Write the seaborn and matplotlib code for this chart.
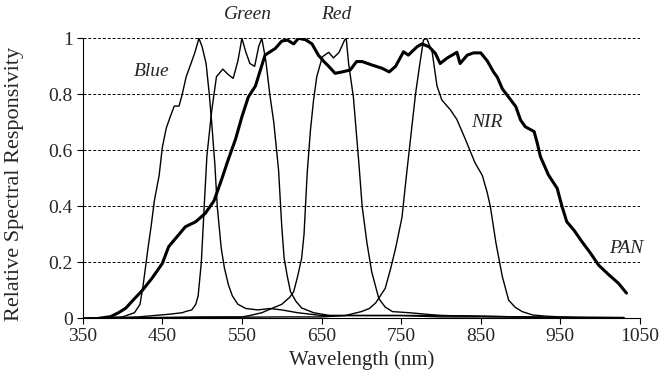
import matplotlib
matplotlib.use('Agg')
import matplotlib.pyplot as plt
import seaborn as sns
import pandas as pd

# Relative spectral responsivity curves
blue_wl = [350, 400, 415, 422, 426, 432, 436, 440, 446, 450, 455, 460, 465, 471, 475, 480, 486, 491,
           496, 500, 505, 509, 512, 516, 519, 524, 528, 533, 538, 545, 555, 570, 585, 600, 620, 650,
           700, 750, 800, 900, 1030]
blue_val = [0.0, 0.005, 0.02, 0.05, 0.12, 0.25, 0.33, 0.42, 0.51, 0.61, 0.68, 0.72, 0.758, 0.758, 0.80,
            0.863, 0.91, 0.95, 1.0, 0.97, 0.91, 0.80, 0.70, 0.55, 0.40, 0.25, 0.18, 0.12, 0.08, 0.05,
            0.035, 0.03, 0.035, 0.03, 0.02, 0.01, 0.01, 0.01, 0.005, 0.005, 0.0]

green_wl = [350, 420, 440, 460, 475, 480, 487, 492, 495, 499, 503, 506, 512, 518, 526, 533, 539, 545,
            550, 555, 560, 566, 571, 575, 580, 585, 590, 596, 600, 603, 607, 611, 618, 625, 640, 660,
            700, 800, 900, 1030]
green_val = [0.0, 0.005, 0.01, 0.015, 0.02, 0.025, 0.03, 0.05, 0.08, 0.2, 0.42, 0.58, 0.74, 0.863, 0.89,
             0.87, 0.857, 0.92, 1.0, 0.95, 0.91, 0.90, 0.97, 1.0, 0.92, 0.80, 0.70, 0.53, 0.33, 0.215,
             0.15, 0.095, 0.06, 0.037, 0.02, 0.01, 0.01, 0.01, 0.005, 0.0]

red_wl = [350, 500, 550, 560, 575, 583, 600, 610, 615, 620, 625, 628, 632, 636, 640, 644, 651, 659,
          665, 672, 679, 681, 684, 690, 697, 701, 707, 713, 722, 730, 739, 760, 780, 800, 900, 1030]
red_val = [0.0, 0.005, 0.005, 0.01, 0.02, 0.03, 0.05, 0.075, 0.095, 0.15, 0.215, 0.30, 0.52, 0.67, 0.78,
           0.863, 0.934, 0.95, 0.93, 0.95, 0.994, 1.0, 0.91, 0.79, 0.55, 0.40, 0.27, 0.166, 0.07, 0.04,
           0.024, 0.02, 0.015, 0.01, 0.005, 0.0]

nir_wl = [350, 600, 650, 680, 700, 710, 718, 730, 737, 743, 751, 757, 768, 773, 778, 782, 789, 795,
          801, 812, 820, 831, 843, 852, 858, 862, 869, 877, 885, 893, 902, 915, 930, 950, 1030]
nir_val = [0.0, 0.005, 0.005, 0.01, 0.024, 0.035, 0.055, 0.107, 0.18, 0.25, 0.36, 0.52, 0.80, 0.90,
           0.994, 1.0, 0.95, 0.83, 0.78, 0.744, 0.71, 0.637, 0.554, 0.51, 0.45, 0.40, 0.27, 0.15,
           0.065, 0.04, 0.024, 0.012, 0.008, 0.005, 0.003]

pan_wl = [370, 385, 395, 404, 415, 425, 437, 450, 458, 471, 479, 492, 504, 515, 525, 532, 542, 550,
          558, 567, 579, 592, 600, 607, 615, 621, 630, 638, 646, 653, 659, 667, 676, 686, 694, 701,
          713, 726, 735, 743, 753, 759, 770, 776, 785, 793, 799, 808, 814, 820, 824, 833, 841, 850,
          858, 866, 871, 877, 885, 894, 900, 906, 917, 921, 925, 935, 946, 952, 958, 967, 977, 988,
          998, 1011, 1023, 1033]
pan_val = [0.0, 0.006, 0.02, 0.036, 0.07, 0.10, 0.143, 0.196, 0.256, 0.30, 0.327, 0.345, 0.375, 0.42,
           0.50, 0.56, 0.64, 0.72, 0.79, 0.83, 0.94, 0.964, 0.99, 0.994, 0.98, 1.0, 0.995, 0.98, 0.94,
           0.917, 0.90, 0.875, 0.88, 0.887, 0.917, 0.917, 0.905, 0.893, 0.88, 0.90, 0.952, 0.94,
           0.97, 0.98, 0.97, 0.946, 0.91, 0.93, 0.94, 0.95, 0.91, 0.94, 0.948, 0.948, 0.92, 0.88,
           0.86, 0.82, 0.79, 0.756, 0.708, 0.684, 0.667, 0.625, 0.577, 0.512, 0.464, 0.40, 0.345,
           0.315, 0.274, 0.232, 0.19, 0.155, 0.125, 0.09]

band_names = ['Blue', 'Green', 'Red', 'NIR', 'PAN']
label_wl = [436, 557, 668, 858, 1033]
label_val = [0.88, 1.085, 1.085, 0.70, 0.25]

x_ticks = [350, 450, 550, 650, 750, 850, 950, 1050]
y_ticks = [0, 0.2, 0.4, 0.6, 0.8, 1]
y_labels = ['0', '0.2', '0.4', '0.6', '0.8', '1']

sns.set_style('white')
plt.rcParams['font.family'] = ['Liberation Serif', 'DejaVu Serif']

fig = plt.figure(figsize=(6.6, 3.89), dpi=100)
ax = fig.add_axes([0.1253, 0.1817, 0.8444, 0.7198])

curves = [(blue_wl, blue_val), (green_wl, green_val), (red_wl, red_val), (nir_wl, nir_val)]
for wl, val in curves:
    sns.lineplot(x=wl, y=val, color='black', lw=1.0, ax=ax, sort=False)
sns.lineplot(x=pan_wl, y=pan_val, color='black', lw=2.2, ax=ax, sort=False)

for name, lx, ly in zip(band_names, label_wl, label_val):
    ax.text(lx, ly, name, fontsize=14, style='italic', ha='center', va='center', clip_on=False)

ax.set_xlim(350, 1050)
ax.set_ylim(0, 1)
ax.set_xticks(x_ticks)
ax.set_yticks(y_ticks)
ax.set_yticklabels(y_labels)
for yv in y_ticks[1:]:
    ax.axhline(yv, color='black', lw=0.7, ls=(0, (3, 2)), zorder=0)

sns.despine(ax=ax)
ax.spines['left'].set_color('black')
ax.spines['bottom'].set_color('black')
ax.spines['left'].set_linewidth(0.8)
ax.spines['bottom'].set_linewidth(0.8)
ax.tick_params(axis='both', direction='out', length=4, width=0.8, color='black',
               labelsize=14, left=True, bottom=True, pad=3)

ax.set_xlabel('Wavelength (nm)', fontsize=15, labelpad=4)
ax.set_ylabel('Relative Spectral Responsivity', fontsize=16)
ax.yaxis.set_label_coords(-0.105, 0.48)

fig.savefig('out.png', dpi=100)
